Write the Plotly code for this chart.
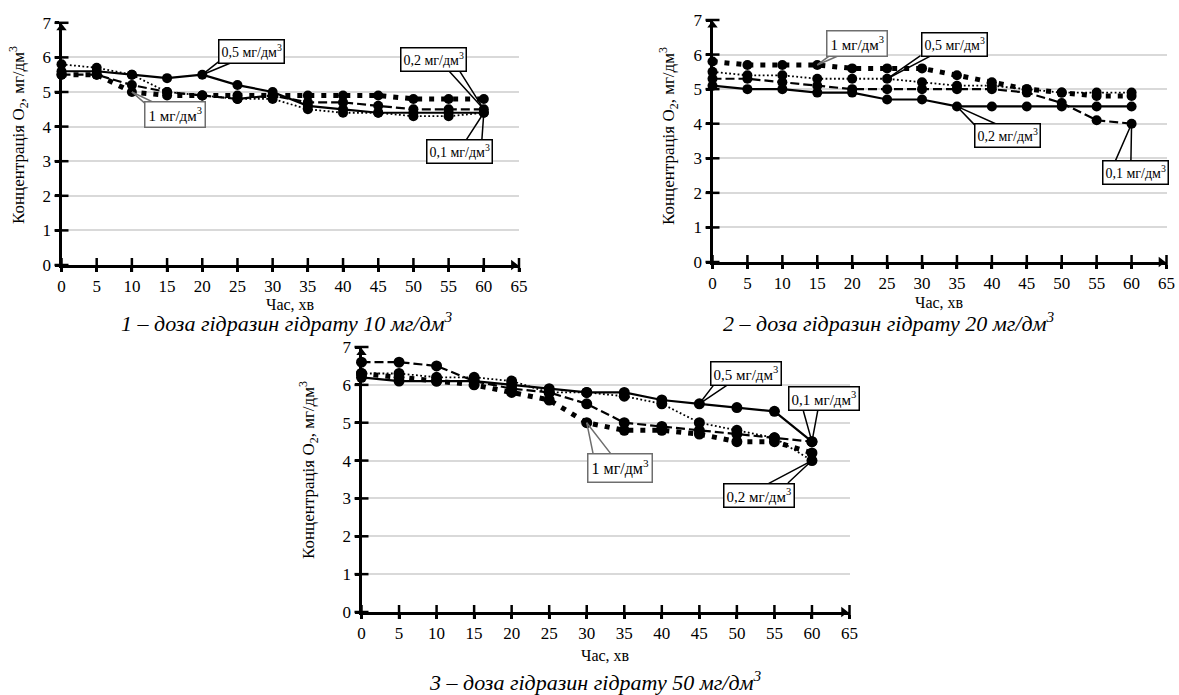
import plotly.graph_objects as go

# ---------------- data ----------------
time_min = [0, 5, 10, 15, 20, 25, 30, 35, 40, 45, 50, 55, 60]
x_ticks = [0, 5, 10, 15, 20, 25, 30, 35, 40, 45, 50, 55, 60, 65]
y_ticks = [0, 1, 2, 3, 4, 5, 6, 7]

# dose of hydrazine hydrate 10 mg/dm3
d10_c01 = [5.8, 5.7, 5.5, 5.0, 4.9, 4.8, 4.8, 4.5, 4.4, 4.4, 4.3, 4.3, 4.4]
d10_c02 = [5.5, 5.5, 5.2, 5.0, 4.9, 4.8, 4.9, 4.7, 4.7, 4.6, 4.5, 4.5, 4.5]
d10_c05 = [5.6, 5.6, 5.5, 5.4, 5.5, 5.2, 5.0, 4.6, 4.5, 4.4, 4.4, 4.4, 4.4]
d10_c1 = [5.5, 5.5, 5.0, 4.9, 4.9, 4.9, 4.9, 4.9, 4.9, 4.9, 4.8, 4.8, 4.8]

# dose of hydrazine hydrate 20 mg/dm3
d20_c01 = [5.3, 5.3, 5.2, 5.1, 5.0, 5.0, 5.0, 5.0, 5.0, 4.9, 4.6, 4.1, 4.0]
d20_c02 = [5.1, 5.0, 5.0, 4.9, 4.9, 4.7, 4.7, 4.5, 4.5, 4.5, 4.5, 4.5, 4.5]
d20_c05 = [5.5, 5.4, 5.4, 5.3, 5.3, 5.3, 5.2, 5.1, 5.1, 5.0, 4.9, 4.9, 4.9]
d20_c1 = [5.8, 5.7, 5.7, 5.7, 5.6, 5.6, 5.6, 5.4, 5.2, 5.0, 4.9, 4.8, 4.8]

# dose of hydrazine hydrate 50 mg/dm3
d50_c01 = [6.6, 6.6, 6.5, 6.1, 5.9, 5.8, 5.5, 5.0, 4.9, 4.8, 4.7, 4.6, 4.5]
d50_c02 = [6.3, 6.3, 6.2, 6.2, 6.1, 5.8, 5.8, 5.7, 5.5, 5.0, 4.8, 4.6, 4.0]
d50_c05 = [6.2, 6.1, 6.1, 6.1, 6.0, 5.9, 5.8, 5.8, 5.6, 5.5, 5.4, 5.3, 4.5]
d50_c1 = [6.3, 6.2, 6.1, 6.0, 5.8, 5.6, 5.0, 4.8, 4.8, 4.7, 4.5, 4.5, 4.2]

dose_labels = ["0,1 мг/дм<sup>3</sup>", "0,2 мг/дм<sup>3</sup>",
               "0,5 мг/дм<sup>3</sup>", "1 мг/дм<sup>3</sup>"]
captions = ["1 – доза гідразин гідрату 10 мг/дм<sup>3</sup>",
            "2 – доза гідразин гідрату 20 мг/дм<sup>3</sup>",
            "3 – доза гідразин гідрату 50 мг/дм<sup>3</sup>"]
x_title = "Час, хв"
y_title = "Концентрація O<sub>2</sub>, мг/дм<sup>3</sup>"

# ---------------- styles ----------------
W, H = 1179, 695
FONT = "Liberation Serif, Times New Roman, Tinos, DejaVu Serif, serif"

STYLES = {
    "solid": dict(width=2.2, dash="solid"),
    "dash": dict(width=2.2, dash="9px,4px"),
    "fine": dict(width=1.8, dash="1.8px,2.4px"),
    "rdot": dict(width=5, dash="5px,7px"),
}

# series per panel with their line style, plus placement in page pixels
panels = [
    dict(series=[(d10_c1, "rdot"), (d10_c01, "fine"), (d10_c02, "dash"), (d10_c05, "solid")],
         px=(61.5, 519), py=(22.8, 265), fs=17, ms=10),
    dict(series=[(d20_c1, "rdot"), (d20_c05, "fine"), (d20_c01, "dash"), (d20_c02, "solid")],
         px=(712.5, 1166.5), py=(20, 262), fs=17, ms=10),
    dict(series=[(d50_c1, "rdot"), (d50_c02, "fine"), (d50_c01, "dash"), (d50_c05, "solid")],
         px=(361.5, 849.5), py=(347, 612), fs=17, ms=11),
]

fig = go.Figure()


def ax_names(i):
    s = "" if i == 0 else str(i + 1)
    return "x" + s, "y" + s


for i, p in enumerate(panels):
    xr, yr = ax_names(i)
    for vals, st in p["series"]:
        fig.add_trace(go.Scatter(
            x=time_min, y=vals, mode="lines+markers", xaxis=xr, yaxis=yr,
            line=dict(color="black", **STYLES[st]),
            marker=dict(size=p["ms"], color="black"),
            cliponaxis=False, showlegend=False, hoverinfo="skip"))
    # tick marks that cross the axes
    fig.add_trace(go.Scatter(
        x=x_ticks, y=[0] * len(x_ticks), mode="markers", xaxis=xr, yaxis=yr,
        marker=dict(symbol="line-ns", size=10, line=dict(width=2.5, color="black")),
        cliponaxis=False, showlegend=False, hoverinfo="skip"))
    fig.add_trace(go.Scatter(
        x=[0] * len(y_ticks), y=y_ticks, mode="markers", xaxis=xr, yaxis=yr,
        marker=dict(symbol="line-ew", size=10, line=dict(width=2.5, color="black")),
        cliponaxis=False, showlegend=False, hoverinfo="skip"))
    # arrow heads at the ends of the axes
    fig.add_trace(go.Scatter(
        x=[0, x_ticks[-1] - 0.8], y=[y_ticks[-1] - 0.15, 0], mode="markers",
        xaxis=xr, yaxis=yr,
        marker=dict(symbol=["triangle-up", "triangle-right"], size=9, color="black",
                    line=dict(width=0)),
        cliponaxis=False, showlegend=False, hoverinfo="skip"))


def dom_x(a, b):
    return [a / W, b / W]


def dom_y(top, bottom):
    return [1 - bottom / H, 1 - top / H]


layout_axes = {}
for i, p in enumerate(panels):
    key = "" if i == 0 else str(i + 1)
    common = dict(showline=True, linewidth=3, linecolor="black", ticks="outside",
                  ticklen=4, tickwidth=2.5, tickcolor="black", zeroline=False,
                  automargin=False, fixedrange=True,
                  tickfont=dict(family=FONT, size=p["fs"], color="black"))
    layout_axes["xaxis" + key] = dict(
        domain=dom_x(*p["px"]), range=[0, 65], tickvals=x_ticks, showgrid=False,
        anchor="y" + key, **common)
    layout_axes["yaxis" + key] = dict(
        domain=dom_y(*p["py"]), range=[0, 7], tickvals=y_ticks, showgrid=True,
        gridcolor="#d9d9d9", gridwidth=1.5, anchor="x" + key, **common)

annotations = []

# callouts: (panel, label index, box centre, wedge tails, target point)
callouts = [
    (0, 2, (27.0, 6.18), [(22.6, 5.92), (25.0, 5.92)], (20, d10_c05[4])),
    (0, 3, (16.1, 4.34), [(12.0, 4.65), (13.6, 4.65)], (10, d10_c1[2])),
    (0, 1, (52.9, 5.95), [(54.7, 5.69), (56.3, 5.69)], (60, d10_c02[12])),
    (0, 0, (56.5, 3.27), [(57.3, 3.55), (59.7, 3.55)], (60, d10_c01[12])),
    (1, 3, (20.7, 6.31), [(17.0, 6.0), (18.4, 6.0)], (15, d20_c1[3])),
    (1, 2, (34.6, 6.30), [(30.0, 6.0), (31.6, 6.0)], (25, d20_c05[5])),
    (1, 1, (42.3, 3.66), [(37.7, 3.93), (41.3, 3.93)], (35, d20_c02[7])),
    (1, 0, (60.6, 2.60), [(57.6, 2.89), (59.9, 2.89)], (60, d20_c01[12])),
    (2, 2, (51.2, 6.29), [(47.0, 6.02), (48.9, 6.02)], (45, d50_c05[9])),
    (2, 0, (61.6, 5.64), [(58.8, 5.35), (60.8, 5.35)], (60, d50_c01[12])),
    (2, 3, (34.4, 3.81), [(30.9, 4.13), (33.4, 4.13)], (30, d50_c1[6])),
    (2, 1, (53.0, 3.07), [(54.0, 3.37), (56.6, 3.37)], (60, d50_c02[12])),
]

for pi, li, box, tails, tgt in callouts:
    xr, yr = ax_names(pi)
    col = "#6e6e6e" if li == 3 else "black"
    for tx, ty in tails:
        annotations.append(dict(
            x=tgt[0], y=tgt[1], xref=xr, yref=yr, ax=tx, ay=ty, axref=xr, ayref=yr,
            text="", showarrow=True, arrowhead=0, arrowwidth=1.5, arrowcolor=col,
            standoff=0, startstandoff=0))

for pi, li, box, tails, tgt in callouts:
    xr, yr = ax_names(pi)
    is_one = li == 3
    fs = panels[pi]["fs"] - 3 + (1 if is_one else 0) + (1 if pi == 2 else 0)
    annotations.append(dict(
        x=box[0], y=box[1], xref=xr, yref=yr, text=dose_labels[li], showarrow=False,
        font=dict(family=FONT, size=fs, color="black"),
        bgcolor="white", bordercolor="#6e6e6e" if is_one else "black",
        borderwidth=1.5, borderpad=3 if is_one else 2,
        xanchor="center", yanchor="middle"))

# axis titles and captions (pixel positions on the page)
title_pos = [
    dict(ytitle=(18, 135), xtitle=(290, 304), caption=(287, 322)),
    dict(ytitle=(668, 136), xtitle=(939, 302), caption=(889, 322)),
    dict(ytitle=(308, 470), xtitle=(605, 655), caption=(595, 681)),
]
for i, tp in enumerate(title_pos):
    fs = panels[i]["fs"]
    annotations.append(dict(
        x=tp["ytitle"][0] / W, y=1 - tp["ytitle"][1] / H, xref="paper", yref="paper",
        text=y_title, textangle=-90, showarrow=False,
        font=dict(family=FONT, size=fs, color="black"),
        xanchor="center", yanchor="middle"))
    annotations.append(dict(
        x=tp["xtitle"][0] / W, y=1 - tp["xtitle"][1] / H, xref="paper", yref="paper",
        text=x_title, showarrow=False,
        font=dict(family=FONT, size=fs - 1, color="black"),
        xanchor="center", yanchor="middle"))
    annotations.append(dict(
        x=tp["caption"][0] / W, y=1 - tp["caption"][1] / H, xref="paper", yref="paper",
        text="<i>" + captions[i] + "</i>", showarrow=False,
        font=dict(family=FONT, size=22, color="black"),
        xanchor="center", yanchor="middle"))

fig.update_layout(
    width=W, height=H, autosize=False,
    margin=dict(l=0, r=0, t=0, b=0, pad=0),
    paper_bgcolor="white", plot_bgcolor="white",
    showlegend=False, annotations=annotations,
    font=dict(family=FONT, color="black"),
    **layout_axes)

fig.write_html("out.html", config={"displayModeBar": False})
